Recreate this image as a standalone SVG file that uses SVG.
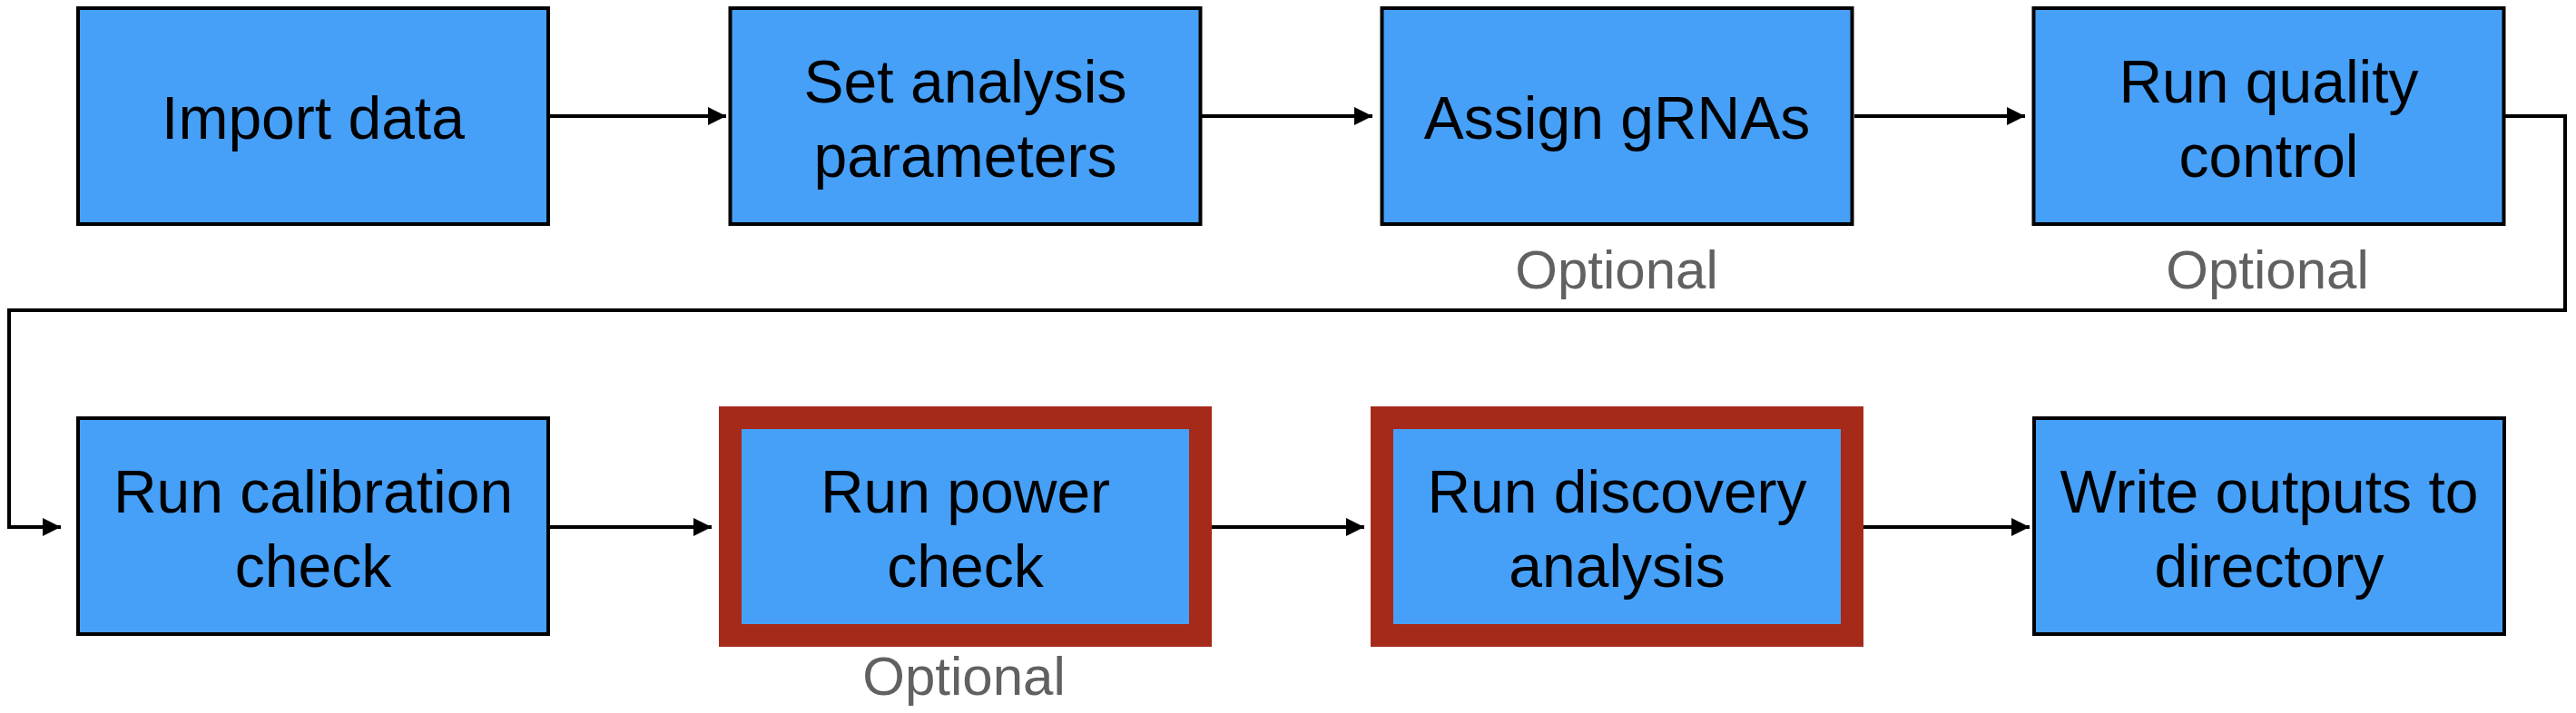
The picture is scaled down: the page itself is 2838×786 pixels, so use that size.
<svg xmlns="http://www.w3.org/2000/svg" width="2838" height="786" viewBox="0 0 2838 786">
<defs>
<style>
.box{fill:#46A0F8;stroke:#000;stroke-width:4}
.hl{fill:#46A0F8;stroke:#A62A1A;stroke-width:25}
.t{font-family:"Liberation Sans",Arial,Helvetica,sans-serif;font-size:66px;fill:#000;text-anchor:middle}
.opt{font-family:"Liberation Sans",Arial,Helvetica,sans-serif;font-size:60px;fill:#616161;text-anchor:middle}
.c{fill:none;stroke:#000;stroke-width:4}
</style>
<marker id="ah" markerUnits="userSpaceOnUse" markerWidth="20" markerHeight="20" refX="20" refY="10" orient="auto">
<path d="M0,0 L20,10 L0,20 Z" fill="#000"/>
</marker>
</defs>
<rect width="2838" height="786" fill="#fff"/>
<g id="connectors">
<path class="c" d="M606,128 H800" marker-end="url(#ah)"/>
<path class="c" d="M1323,128 H1512" marker-end="url(#ah)"/>
<path class="c" d="M2043,128 H2231" marker-end="url(#ah)"/>
<path class="c" d="M2760,128 H2826 V342 H10 V581 H67" marker-end="url(#ah)"/>
<path class="c" d="M606,581 H784" marker-end="url(#ah)"/>
<path class="c" d="M1335,581 H1503" marker-end="url(#ah)"/>
<path class="c" d="M2053,581 H2236" marker-end="url(#ah)"/>
</g>
<g id="n1">
<rect class="box" x="86" y="9" width="518" height="238"/>
<text class="t" x="345" y="153">Import data</text>
</g>
<g id="n2">
<rect class="box" x="804.5" y="9" width="518" height="238"/>
<text class="t" x="1063.5" y="113">Set analysis</text>
<text class="t" x="1063.5" y="195">parameters</text>
</g>
<g id="n3">
<rect class="box" x="1522.5" y="9" width="518" height="238"/>
<text class="t" x="1781.5" y="153">Assign gRNAs</text>
<text class="opt" x="1781" y="318">Optional</text>
</g>
<g id="n4">
<rect class="box" x="2240.5" y="9" width="518" height="238"/>
<text class="t" x="2499.5" y="113">Run quality</text>
<text class="t" x="2499.5" y="195">control</text>
<text class="opt" x="2498" y="318">Optional</text>
</g>
<g id="n5">
<rect class="box" x="86" y="461" width="518" height="238"/>
<text class="t" x="345" y="565">Run calibration</text>
<text class="t" x="345" y="647">check</text>
</g>
<g id="n6">
<rect class="hl" x="804.5" y="460.5" width="518" height="240"/>
<text class="t" x="1063.5" y="565">Run power</text>
<text class="t" x="1063.5" y="647">check</text>
<text class="opt" x="1062" y="766">Optional</text>
</g>
<g id="n7">
<rect class="hl" x="1522.5" y="460.5" width="518" height="240"/>
<text class="t" x="1781.5" y="565">Run discovery</text>
<text class="t" x="1781.5" y="647">analysis</text>
</g>
<g id="n8">
<rect class="box" x="2241" y="461" width="518" height="238"/>
<text class="t" x="2500" y="565">Write outputs to</text>
<text class="t" x="2500" y="647">directory</text>
</g>
</svg>
